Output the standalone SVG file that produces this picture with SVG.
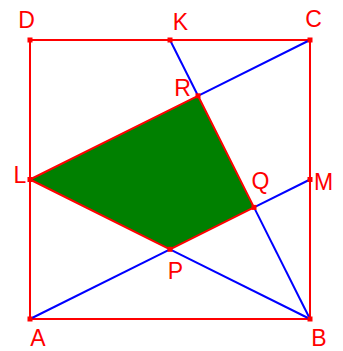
<svg xmlns="http://www.w3.org/2000/svg" width="343" height="351" viewBox="0 0 343 351">
<style>
.sq{fill:none;stroke:#ff0000;stroke-width:2}
.bl{stroke:#0000ff;stroke-width:2;fill:none}
.poly{fill:#008000;stroke:#ff0000;stroke-width:2;stroke-linejoin:round}
.pt{fill:#ff0000}
.lb{font-family:"Liberation Sans",Arial,sans-serif;font-size:23px;fill:#ff0000;text-anchor:middle}
</style>
<rect width="343" height="351" fill="#ffffff"/>
<polygon id="shaded" class="poly" points="30,179.5 198,95.8 254,207.4 170,249.3"/>
<g id="connectors">
<rect class="sq" x="30" y="40" width="280" height="279"/>
<line class="bl" x1="170" y1="40" x2="198" y2="95.8"/>
<line class="bl" x1="198" y1="95.8" x2="310" y2="40"/>
<line class="bl" x1="254" y1="207.4" x2="310" y2="179.5"/>
<line class="bl" x1="254" y1="207.4" x2="310" y2="319"/>
<line class="bl" x1="170" y1="249.3" x2="30" y2="319"/>
<line class="bl" x1="170" y1="249.3" x2="310" y2="319"/>
</g>
<g id="D"><rect class="pt" x="27.5" y="37.5" width="5" height="5"/><text class="lb" x="26.5" y="27.5">D</text></g>
<g id="K"><rect class="pt" x="167.5" y="37.5" width="5" height="5"/><text class="lb" x="180.5" y="30">K</text></g>
<g id="C"><rect class="pt" x="307.5" y="37.5" width="5" height="5"/><text class="lb" x="313.5" y="27">C</text></g>
<g id="R"><rect class="pt" x="195.5" y="93.3" width="5" height="5"/><text class="lb" x="182.5" y="96">R</text></g>
<g id="L"><rect class="pt" x="27.5" y="177" width="5" height="5"/><text class="lb" x="20" y="183">L</text></g>
<g id="M"><rect class="pt" x="307.5" y="177" width="5" height="5"/><text class="lb" x="323.5" y="190">M</text></g>
<g id="Q"><rect class="pt" x="251.5" y="204.9" width="5" height="5"/><text class="lb" x="260.5" y="189">Q</text></g>
<g id="P"><rect class="pt" x="167.5" y="246.8" width="5" height="5"/><text class="lb" x="175.5" y="279">P</text></g>
<g id="A"><rect class="pt" x="27.5" y="316.5" width="5" height="5"/><text class="lb" x="38" y="346">A</text></g>
<g id="B"><rect class="pt" x="307.5" y="316.5" width="5" height="5"/><text class="lb" x="319" y="346">B</text></g>
</svg>
